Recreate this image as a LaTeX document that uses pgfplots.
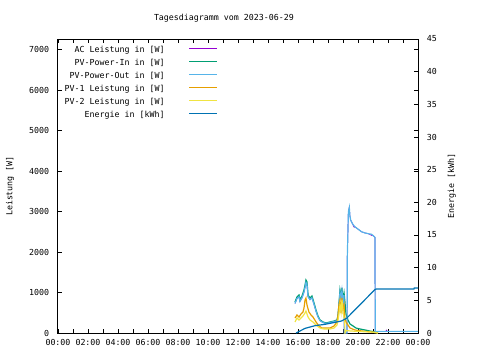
\documentclass[border=0pt]{standalone}
\usepackage{fontspec}
\setmainfont{DejaVu Sans Mono}
\usepackage{pgfplots}
\pgfplotsset{compat=1.18}
\definecolor{cac}{HTML}{9400D3}
\definecolor{cin}{HTML}{009E73}
\definecolor{cout}{HTML}{56B4E9}
\definecolor{cpvone}{HTML}{E69F00}
\definecolor{cpvtwo}{HTML}{F0E442}
\definecolor{cen}{HTML}{0072B2}
\begin{document}
\fontsize{8.3}{10}\selectfont
\begin{tikzpicture}
\path[use as bounding box] (0,0) rectangle (480pt,360pt);
\pgfplotsset{
  common/.style={
    at={(58pt,27pt)}, anchor=south west,
    scale only axis, width=360pt, height=294pt,
    xmin=0, xmax=24,
    tick align=inside,
    major tick length=4pt, minor tick length=4pt,
    tick style={black, line width=0.8pt},
    axis line style={line width=1pt},
    /pgf/number format/assume math mode=true,
    every axis plot/.append style={line width=1.2pt},
  }
}
\begin{axis}[
  common,
  ymin=0, ymax=7260,
  xtick={0,2,...,24},
  xticklabels={00:00,02:00,04:00,06:00,08:00,10:00,12:00,14:00,16:00,18:00,20:00,22:00,00:00},
  minor xtick={1,3,...,23},
  ytick={0,1000,...,7000},
  yticklabels={0,1000,2000,3000,4000,5000,6000,7000},
  xticklabel style={yshift=-3.5pt},
  yticklabel style={xshift=-6pt},
  ylabel={Leistung [W]},
  every axis y label/.style={at={(axis description cs:-0.133,0.5)}, anchor=center, rotate=90},
  title={Tagesdiagramm vom 2023-06-29},
  every axis title/.style={at={(axis description cs:0.461,1.071)}, anchor=center},
]
% AC Leistung
\addplot[cac, line width=0.7pt] coordinates {(15.80,730)(15.93,850)(16.07,895)(16.13,780)(16.27,870)(16.40,1010)(16.47,1130)(16.53,1250)(16.60,1200)(16.67,895)(16.80,825)(16.93,870)(17.07,705)(17.20,540)(17.33,400)(17.47,305)(17.67,258)(17.87,235)(18.13,258)(18.40,281)(18.60,305)(18.67,420)(18.73,680)(18.80,1010)(18.87,870)(18.93,1055)(19.00,775)(19.07,940)(19.08,0)(19.27,0)(19.29,1920)(19.36,2996)(19.42,3103)(19.46,2900)(19.51,2790)(19.62,2708)(19.73,2615)(19.84,2610)(20.02,2560)(20.24,2500)(20.47,2470)(20.69,2452)(20.91,2410)(21.02,2402)(21.13,2363)(21.15,40)(21.85,40)(21.90,70)(21.95,40)(24,40)};
% PV-Power-In
\addplot[cin] coordinates {(15.80,765)(15.93,889)(16.07,938)(16.13,815)(16.27,914)(16.40,1062)(16.47,1185)(16.53,1309)(16.60,1259)(16.67,938)(16.80,864)(16.93,914)(17.07,741)(17.20,568)(17.33,420)(17.47,321)(17.67,272)(17.87,247)(18.13,272)(18.40,296)(18.60,321)(18.67,444)(18.73,716)(18.80,1062)(18.87,914)(18.93,1111)(19.00,815)(19.07,988)(19.13,765)(19.20,469)(19.33,321)(19.47,222)(19.67,173)(19.87,123)(20.13,99)(20.47,74)(20.80,49)(21.13,25)(21.33,0)};
% PV-Power-Out
\addplot[cout] coordinates {(15.80,730)(15.93,850)(16.07,895)(16.13,780)(16.27,870)(16.40,1010)(16.47,1130)(16.53,1250)(16.60,1200)(16.67,895)(16.80,825)(16.93,870)(17.07,705)(17.20,540)(17.33,400)(17.47,305)(17.67,258)(17.87,235)(18.13,258)(18.40,281)(18.60,305)(18.67,420)(18.73,680)(18.80,1010)(18.87,870)(18.93,1055)(19.00,775)(19.07,940)(19.08,0)(19.27,0)(19.29,1920)(19.36,2996)(19.42,3103)(19.46,2900)(19.51,2790)(19.62,2708)(19.73,2650)(19.84,2610)(20.02,2560)(20.24,2500)(20.47,2470)(20.69,2452)(20.91,2437)(21.02,2402)(21.13,2363)(21.15,40)(24,40)};
% PV-1
\addplot[cpvone] coordinates {(15.80,370)(15.93,444)(16.07,395)(16.20,469)(16.33,518)(16.40,617)(16.47,815)(16.53,864)(16.60,691)(16.73,518)(16.87,444)(17.00,395)(17.20,272)(17.40,173)(17.60,123)(17.87,123)(18.13,123)(18.40,173)(18.60,272)(18.67,444)(18.73,691)(18.80,815)(18.87,494)(18.93,864)(19.00,568)(19.07,691)(19.13,370)(19.20,272)(19.33,198)(19.47,123)(19.80,74)(20.27,49)(20.93,25)(21.33,0)};
% PV-2
\addplot[cpvtwo] coordinates {(15.80,272)(15.93,370)(16.07,321)(16.20,370)(16.33,420)(16.47,494)(16.53,543)(16.67,395)(16.80,321)(17.00,272)(17.20,198)(17.47,123)(17.73,99)(18.13,99)(18.40,123)(18.60,198)(18.67,321)(18.73,469)(18.80,691)(18.87,518)(18.93,815)(19.00,568)(19.07,370)(19.12,247)(19.13,0)(19.20,60)(19.50,50)(20.00,40)(20.50,30)(21.00,20)(21.33,0)};
\end{axis}
\begin{axis}[
  common,
  ymin=0, ymax=45,
  axis x line=none,
  axis y line*=right,
  y axis line style={-},
  ytick={0,5,...,45},
  yticklabel style={xshift=6pt},
  ylabel={Energie [kWh]},
  every axis y label/.style={at={(axis description cs:1.094,0.5)}, anchor=center, rotate=90},
  legend style={at={(axis description cs:0.444,0.973)}, anchor=north east, draw=none, fill=none,
    inner sep=0pt, outer sep=0pt, row sep=5.4pt, column sep=24pt,
    nodes={inner sep=0pt, text height=6pt, text depth=1.6pt}},
  legend cell align=right,
  legend plot pos=right,
  legend image code/.code={\draw[#1, line width=1.3pt] (0pt,2.2pt) -- (28pt,2.2pt);},
]
\addlegendimage{cac}
\addlegendimage{cin}
\addlegendimage{cout}
\addlegendimage{cpvone}
\addlegendimage{cpvtwo}
\addplot[cen] coordinates {(15.87,0)(16.47,0.71)(17.13,1.12)(17.80,1.33)(18.47,1.63)(18.90,1.84)(19.24,2.25)(21.13,6.65)(21.20,6.72)(23.73,6.72)(23.75,6.88)(24,6.88)};
\legend{AC Leistung in [W],PV-Power-In in [W],PV-Power-Out in [W],PV-1 Leistung in [W],PV-2 Leistung in [W],Energie in [kWh]}
\end{axis}
\end{tikzpicture}
\end{document}
